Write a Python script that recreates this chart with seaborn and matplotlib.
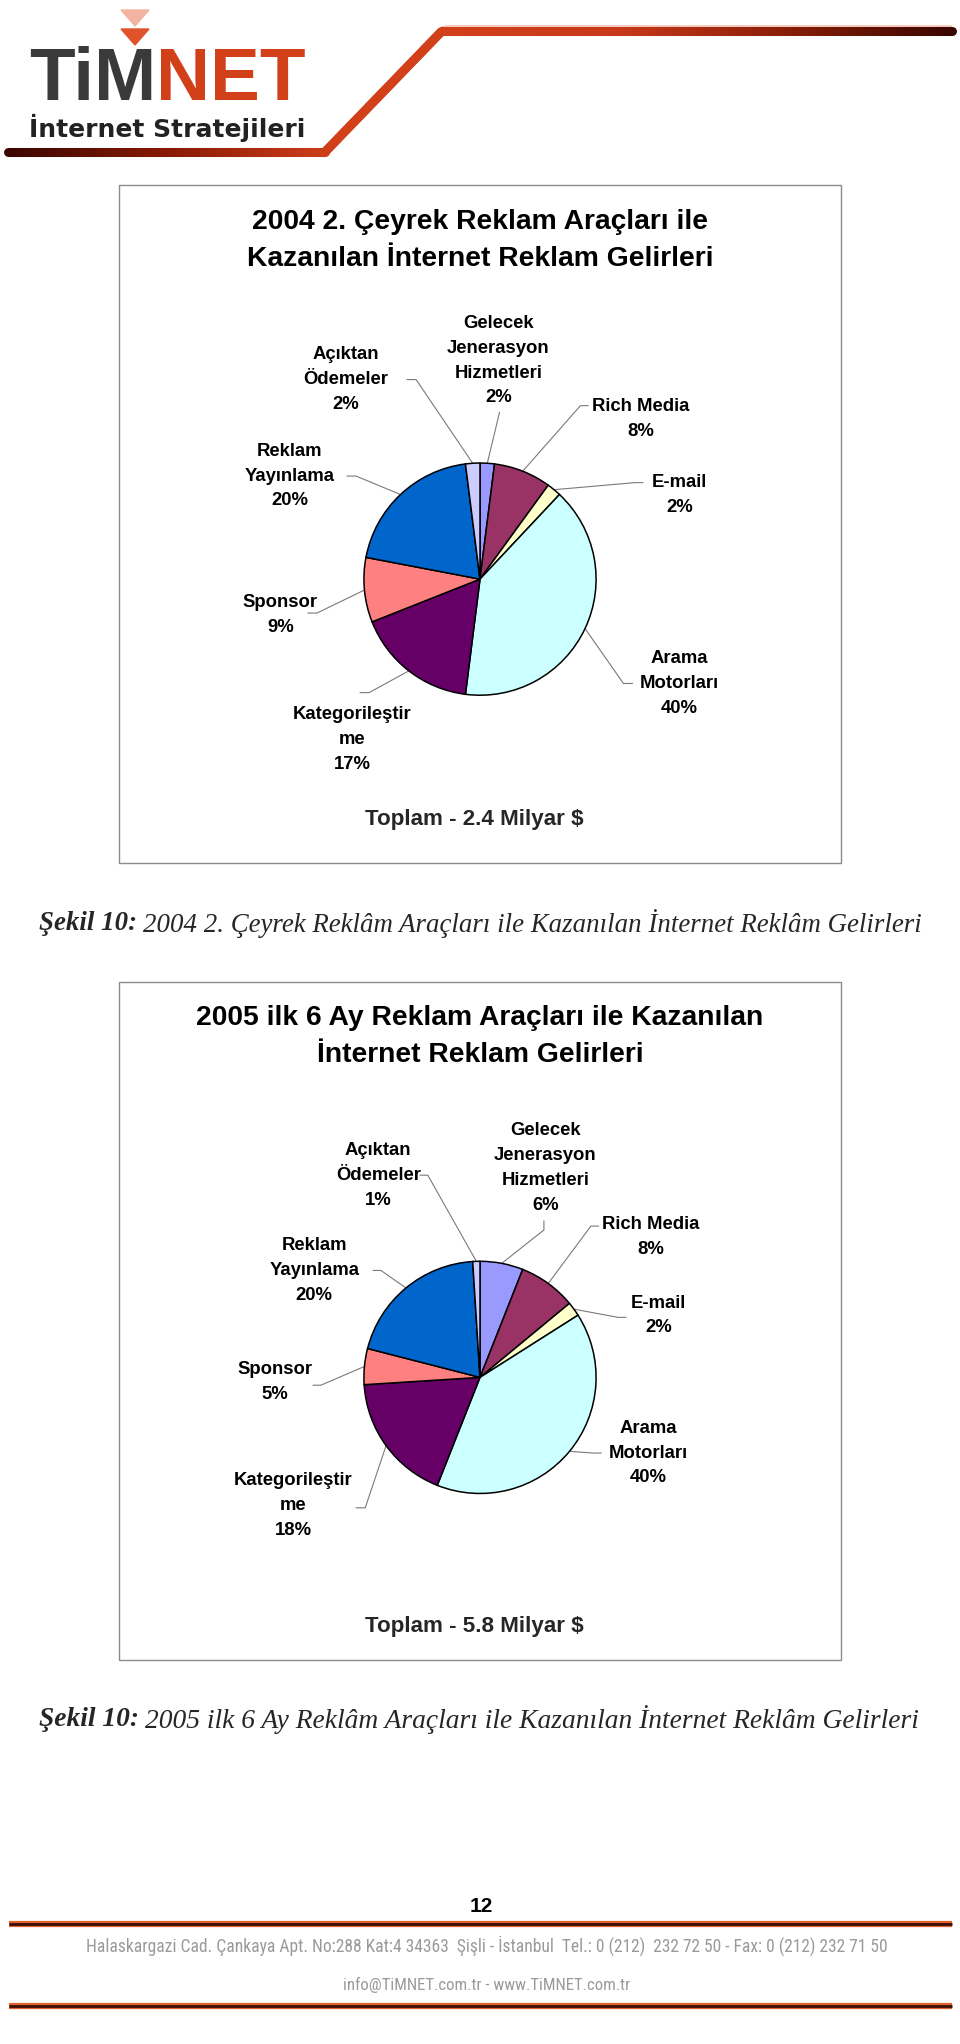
import numpy as np
import matplotlib
matplotlib.use("Agg")
import matplotlib.pyplot as plt
from matplotlib import font_manager
import seaborn as sns
from matplotlib.collections import LineCollection
from matplotlib.patches import Rectangle, Polygon
from matplotlib.colors import to_rgb

# ---------------- data ----------------
categories = ["Gelecek\nJenerasyon\nHizmetleri", "Rich Media", "E-mail", "Arama\nMotorları",
              "Kategorileştir\nme", "Sponsor", "Reklam\nYayınlama", "Açıktan\nÖdemeler"]
values_2004 = [2, 8, 2, 40, 17, 9, 20, 2]
values_2005 = [6, 8, 2, 40, 18, 5, 20, 1]
slice_colors = ["#9999FF", "#993366", "#FFFFCC", "#CCFFFF", "#660066", "#FF8080", "#0066CC", "#CCCCFF"]
titles = ["2004 2. Çeyrek Reklam Araçları ile\nKazanılan İnternet Reklam Gelirleri",
          "2005 ilk 6 Ay Reklam Araçları ile Kazanılan\nİnternet Reklam Gelirleri"]
totals = ["Toplam - 2.4 Milyar $", "Toplam - 5.8 Milyar $"]
caption_heads = ["Şekil 10:", "Şekil 10:"]
caption_texts = ["2004 2. Çeyrek Reklâm Araçları ile Kazanılan İnternet Reklâm Gelirleri",
                 "2005 ilk 6 Ay Reklâm Araçları ile Kazanılan İnternet Reklâm Gelirleri"]
page_number = "12"
address = "Halaskargazi Cad. Çankaya Apt. No:288 Kat:4 34363  Şişli - İstanbul  Tel.: 0 (212)  232 72 50 - Fax: 0 (212) 232 71 50"
contact = "info@TiMNET.com.tr - www.TiMNET.com.tr"

# ---------------- layout (reference pixels at 736 px width, y down) ----------------
W, H = 960, 2044
S = 960 / 736.0
charts = [
    dict(values=values_2004, box=(91, 142, 645, 662), center=(368, 444), r=89,
         title_y=184, title_w=(195, 545), total_y=628, caption_y=708, caption_x=(30, 708),
         labels=[((382, 276.5), [(383, 316)]),
                 ((491, 321), [(451, 311), (445, 311)]),
                 ((521, 379.5), [(493, 370), (487, 370)]),
                 ((521, 524), [(485, 524), (478, 524)]),
                 ((270, 567), [(276, 531), (283, 531)]),
                 ((215, 471.5), [(236, 470), (243, 470)]),
                 ((222, 365), [(266, 365), (273, 365)]),
                 ((265, 291), [(312, 291), (319, 291)])]),
    dict(values=values_2005, box=(91, 753, 645, 1273), center=(368, 1056), r=89,
         title_y=795, title_w=(152, 586), total_y=1247, caption_y=1318, caption_x=(30, 706),
         labels=[((418, 895.5), [(417, 936), (417, 943)]),
                 ((499, 948.5), [(459, 940), (453, 940)]),
                 ((505, 1008.5), [(480, 1010), (474, 1010)]),
                 ((497, 1114), [(461, 1114), (455, 1114)]),
                 ((225, 1154), [(273, 1156), (280, 1156)]),
                 ((211, 1059.5), [(240, 1062), (246, 1062)]),
                 ((241, 974), [(286, 974), (292, 974)]),
                 ((290, 901), [(322, 901), (328, 901)])]),
]

sns.set_theme(style="white")
plt.rcParams["font.family"] = ["Liberation Sans", "DejaVu Sans"]

# pick a narrow font if one is installed
_names = {f.name for f in font_manager.fontManager.ttflist}
_narrow = None
for cand in ["Liberation Sans Narrow", "Roboto Condensed", "Open Sans Condensed", "DejaVu Sans Condensed"]:
    if cand in _names:
        _narrow = dict(family=[cand, "DejaVu Sans"])
        break
if _narrow is None:
    _narrow = dict(family=["Liberation Sans", "DejaVu Sans"])

fig = plt.figure(figsize=(W / 100, H / 100), dpi=100)
fig.patch.set_facecolor("white")
ax = fig.add_axes([0, 0, 1, 1])


def P(x, y):
    return (x * S, H - y * S)


fig.canvas.draw()
renderer = fig.canvas.get_renderer()


def fit_width(t, target):
    w = t.get_window_extent(renderer).width
    t.set_fontsize(t.get_fontsize() * target / w)
    return t


# ---------------- header ----------------
def gradient_line(pts, cols, lw, n=200):
    pts = np.array(pts, float)
    seg_len = np.r_[0, np.cumsum(np.hypot(*np.diff(pts, axis=0).T))]
    s = np.linspace(0, seg_len[-1], n)
    xs = np.interp(s, seg_len, pts[:, 0])
    ys = np.interp(s, seg_len, pts[:, 1])
    c = np.array([to_rgb(k) for k in cols])
    cs = np.column_stack([np.interp(s / s[-1], np.linspace(0, 1, len(cols)), c[:, i]) for i in range(3)])
    segs = [[(xs[i], H - ys[i]), (xs[i + 1], H - ys[i + 1])] for i in range(n - 1)]
    ax.add_collection(LineCollection(segs, colors=cs[:-1], linewidths=lw, capstyle="round"))


gradient_line([(8, 152), (325, 152), (442, 31), (952, 31)],
              ["#3a0600", "#8a1a05", "#d2401a", "#d2401a", "#c8391a", "#8a1e08", "#3a0600"], 6.5, n=400)
ax.plot([445, 952], [H - 26, H - 26], color="#f3c2b0", linewidth=1.2, solid_capstyle="butt")

ax.add_patch(Polygon([(121, H - 10), (149, H - 10), (135, H - 26)], closed=True, color="#f2b4a0"))
ax.add_patch(Polygon([(121, H - 29), (149, H - 29), (135, H - 45)], closed=True, color="#e0532a"))
base_fs = 52
t1 = ax.text(29, H - 100, "TiM", fontsize=base_fs, fontweight="heavy", color="#3a3a3a", va="baseline", ha="left")
t2 = ax.text(29, H - 100, "NET", fontsize=base_fs, fontweight="heavy", color="#d2401a", va="baseline", ha="left")
wa = t1.get_window_extent(renderer).width
wb = t2.get_window_extent(renderer).width
kf = 277.0 / (wa + wb)
t1.set_fontsize(base_fs * kf)
t2.set_fontsize(base_fs * kf)
t2.set_x(29 + t1.get_window_extent(renderer).width)
t3 = ax.text(29, H - 137, "İnternet Stratejileri", fontsize=18, fontweight="bold",
             family=["DejaVu Sans"], color="#222222", va="baseline", ha="left")
fit_width(t3, 277)

# ---------------- charts ----------------
pal = sns.color_palette(slice_colors)
for k, ch in enumerate(charts):
    x0, y0, x1, y1 = ch["box"]
    bx0, by0 = P(x0, y1)
    bx1, by1 = P(x1, y0)
    ax.add_patch(Rectangle((bx0, by0), bx1 - bx0, by1 - by0, fill=False, edgecolor="#8c8c8c", linewidth=1.0))

    tx, ty = P(368, ch["title_y"])
    tt = ax.text(tx, ty, titles[k], ha="center", va="center", fontsize=18,
                 fontweight="bold", linespacing=1.55, color="black")
    probe = ax.text(0, 0, titles[k].split("\n")[0], fontsize=18, fontweight="bold")
    wpx = probe.get_window_extent(renderer).width
    probe.remove()
    tt.set_fontsize(18 * (ch["title_w"][1] - ch["title_w"][0]) * S / wpx)

    cx, cy = P(*ch["center"])
    r = ch["r"] * S
    wedges, _ = ax.pie(ch["values"], colors=pal, startangle=90, counterclock=False,
                       center=(cx, cy), radius=r,
                       wedgeprops=dict(edgecolor="black", linewidth=1.1))
    for i, w in enumerate(wedges):
        ang = np.deg2rad((w.theta1 + w.theta2) / 2)
        ex, ey = cx + r * np.cos(ang), cy + r * np.sin(ang)
        (lx, ly), path = ch["labels"][i]
        pts = [P(*p) for p in path] + [(ex, ey)]
        ax.plot([p[0] for p in pts], [p[1] for p in pts], color="#7a7a7a", linewidth=0.8, zorder=0.5)
        px, py = P(lx, ly)
        ax.text(px, py, f"{categories[i]}\n{ch['values'][i]}%", ha="center", va="center",
                fontsize=13.3, fontweight="bold", linespacing=1.6, color="black")

    ox, oy = P(364, ch["total_y"])
    tot = ax.text(ox, oy, totals[k], ha="center", va="center", fontsize=14, fontweight="bold")
    fit_width(tot, 219)

    # caption: bold-italic head + italic text
    cxl, cyl = P(ch["caption_x"][0], ch["caption_y"])
    ser = ["Liberation Serif", "DejaVu Serif"]
    h1 = ax.text(cxl, cyl, caption_heads[k], ha="left", va="center", fontsize=20, fontweight="bold",
                 fontstyle="italic", family=ser)
    h2 = ax.text(cxl, cyl, caption_texts[k], ha="left", va="center", fontsize=20,
                 fontstyle="italic", family=ser)
    w1 = h1.get_window_extent(renderer).width
    w2 = h2.get_window_extent(renderer).width
    gap = 6
    target = (ch["caption_x"][1] - ch["caption_x"][0]) * S
    f = target / (w1 + w2 + gap)
    h1.set_fontsize(20 * f)
    h2.set_fontsize(20 * f)
    w1 = h1.get_window_extent(renderer).width
    h2.set_x(cxl + w1 + gap * f)

# ---------------- footer ----------------
nx, ny = P(369, 1462)
ax.text(nx, ny, page_number, ha="center", va="center", fontsize=15, fontweight="bold", color="black")
for yl in (1475, 1538):
    _, yy = P(0, yl)
    ax.plot([9, 952], [yy, yy], color="#e0602e", linewidth=4.5, solid_capstyle="butt")
    ax.plot([9, 952], [yy, yy], color="#3a0e02", linewidth=2.0, solid_capstyle="butt")
axp = P(368, 1492)
ta = ax.text(487, axp[1], address, ha="center", va="center", fontsize=12, color="#9a9a9a", **_narrow)
fit_width(ta, 802)
cp = P(368, 1522)
tc = ax.text(487, cp[1], contact, ha="center", va="center", fontsize=12, color="#9a9a9a", **_narrow)
fit_width(tc, 288)

ax.set_xlim(0, W)
ax.set_ylim(0, H)
ax.set_aspect("auto")
ax.axis("off")
fig.savefig("out.png", dpi=100, facecolor="white")
